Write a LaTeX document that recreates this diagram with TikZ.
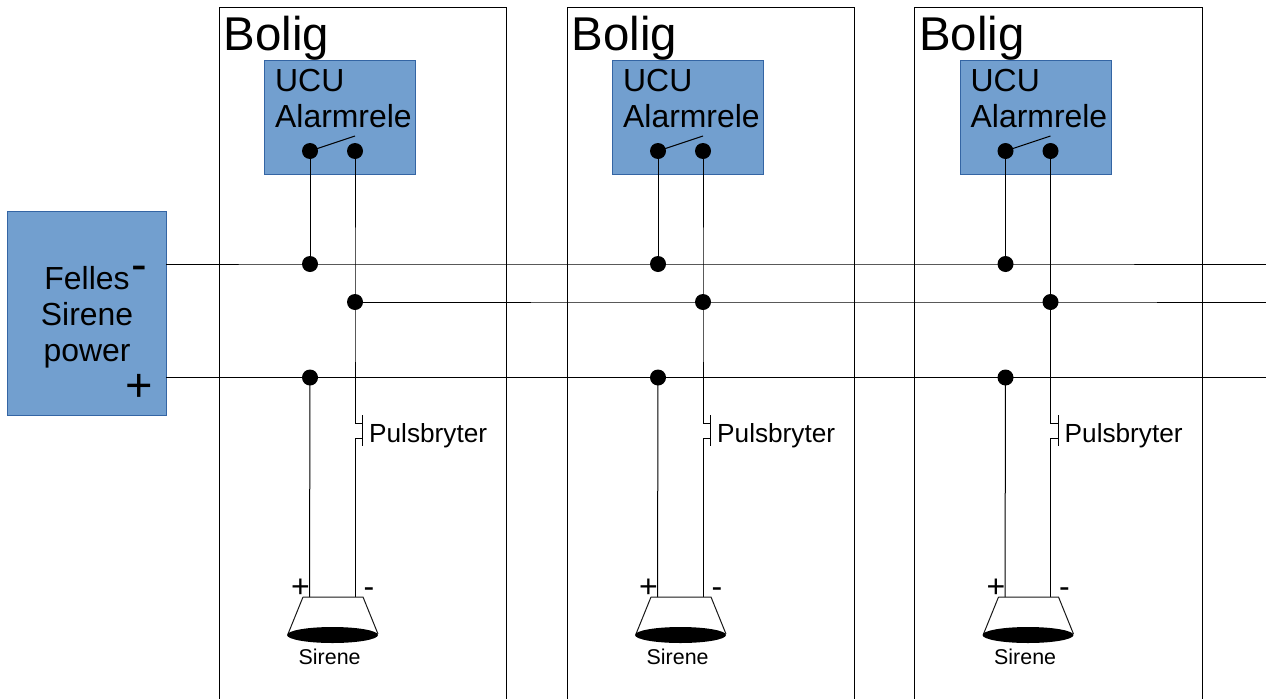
\documentclass[tikz,border=0pt]{standalone}
\usepackage{fontspec}
\usetikzlibrary{shapes.geometric}
\setmainfont{Liberation Sans}
\definecolor{boxfill}{HTML}{729FCF}
\definecolor{boxedge}{HTML}{3465A4}
\tikzset{
  bluebox/.style={draw=boxedge,fill=boxfill,line width=0.8pt,inner sep=0pt,anchor=north west},
  wire/.style={draw=black,line width=1pt},
  house/.style={draw=black,line width=0.9pt},
  dot/.style={circle,fill=black,inner sep=0pt,minimum size=16pt},
  txt/.style={inner sep=0pt,anchor=base west,text=black},
  title/.style={txt,font=\fontsize{47.4}{50}\selectfont},
  big/.style={txt,font=\fontsize{31.9}{36}\selectfont},
  mid/.style={txt,font=\fontsize{26.2}{30}\selectfont},
  small/.style={txt,font=\fontsize{21.4}{24}\selectfont},
  pol/.style={txt,font=\fontsize{32}{36}\selectfont},
  bigpol/.style={txt,font=\fontsize{47}{50}\selectfont},
}
\begin{document}
\begin{tikzpicture}[x=1pt,y=-1pt]
\useasboundingbox (0,0) rectangle (1266,699);
\node[bluebox,minimum width=159pt,minimum height=204pt] (felles) at (7,211) {};
\node[big,anchor=base] (f1) at (87,289) {Felles};
\node[big,anchor=base] (f2) at (87,325) {Sirene};
\node[big,anchor=base] (f3) at (87,361) {power};
\node[bigpol] (fminus) at (131,280) {-};
\node[bigpol] (fplus) at (125,401) {+};
\coordinate (felMinus) at (166,264);
\coordinate (felPlus) at (166,377.5);
\coordinate (endMinus) at (1266,264);
\coordinate (endMid) at (1266,302);
\coordinate (endPlus) at (1266,377.5);
\foreach \i/\x in {1/0,2/348,3/695.5}{
\begin{scope}[xshift=\x pt]
  \draw[house] (219,699) -- (219,7.5) -- (506.5,7.5) -- (506.5,699);
  \node[title] (bolig\i) at (223.5,50) {Bolig};
  \node[bluebox,minimum width=151pt,minimum height=113.5pt] (ucu\i) at (264,60) {};
  \node[big] (ucut\i) at (275,91) {UCU};
  \node[big] (alarm\i) at (275,127) {Alarmrele};
  \node[dot] (sa\i) at (310,151) {};
  \node[dot] (sb\i) at (355,151) {};
  \coordinate (arm\i) at (355,136);
  \draw[line width=1pt,black] (sa\i.center) -- (arm\i);
  \node[dot] (top\i) at (310,264) {};
  \node[dot] (mid\i) at (355,302) {};
  \node[dot] (bot\i) at (310,377.5) {};
  \coordinate (pa\i) at (355,423);
  \coordinate (pb\i) at (362.5,423);
  \coordinate (pc\i) at (362.5,415);
  \coordinate (pd\i) at (362.5,446);
  \coordinate (pe\i) at (362.5,438);
  \coordinate (pf\i) at (355,438);
  \coordinate (sirP\i) at (309.5,597);
  \coordinate (sirM\i) at (355,597);
  \draw[wire] (sa\i.center) -- (top\i.center);
  \draw[wire] (sb\i.center) -- (mid\i.center) -- (pa\i) -- (pb\i);
  \draw[wire] (pc\i) -- (pd\i);
  \draw[wire] (pe\i) -- (pf\i) -- (sirM\i);
  \draw[wire] (bot\i.center) -- (sirP\i);
  \node[mid] (puls\i) at (369,442) {Pulsbryter};
  \draw[line width=1pt,black!90] (303,597) -- (363,597) -- (378,634) (303,597) -- (288,634);
  \node[ellipse,fill=black,inner sep=0pt,minimum width=91pt,minimum height=16pt] (horn\i) at (332.5,635) {};
  \node[pol] (plus\i) at (291,597) {+};
  \node[pol] (minus\i) at (363.5,597) {-};
  \node[small] (sir\i) at (298.5,664) {Sirene};
\end{scope}
}
\draw[wire] (felMinus) -- (top1.center) -- (top2.center) -- (top3.center) -- (endMinus);
\draw[wire] (mid1.center) -- (mid2.center) -- (mid3.center) -- (endMid);
\draw[wire] (felPlus) -- (bot1.center) -- (bot2.center) -- (bot3.center) -- (endPlus);
\end{tikzpicture}
\end{document}
